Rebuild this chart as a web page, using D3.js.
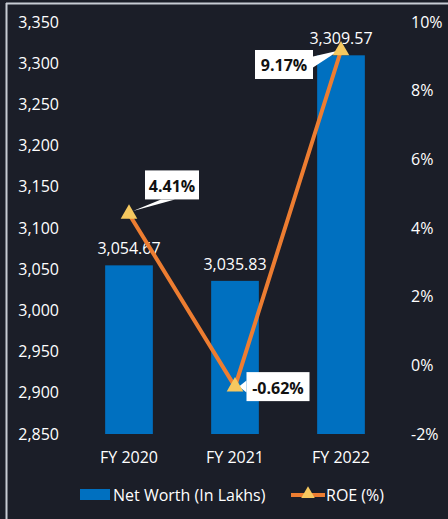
<!DOCTYPE html>
<html><head><meta charset="utf-8">
<script src="https://cdn.jsdelivr.net/npm/d3@7"></script>
<style>
html,body{margin:0;padding:0;background:#1b1e28;}
svg{display:block;}
text{font-family:"Open Sans","Noto Sans",sans-serif;}
</style></head>
<body>
<svg id="c" width="448" height="519"></svg>
<script>
const categories = ["FY 2020", "FY 2021", "FY 2022"];
const netWorth = [3054.67, 3035.83, 3309.57];
const roe = [4.41, -0.62, 9.17];
const leftTicks = [2850, 2900, 2950, 3000, 3050, 3100, 3150, 3200, 3250, 3300, 3350];
const rightTicks = [-2, 0, 2, 4, 6, 8, 10];
const seriesNames = ["Net Worth (In Lakhs)", "ROE (%)"];

const svg = d3.select("#c");
svg.append("rect").attr("width",448).attr("height",519).attr("fill","#1b1e28");
svg.append("line").attr("x1",6).attr("x2",448).attr("y1",3.5).attr("y2",3.5).attr("stroke","#c8ccd4").attr("stroke-width",2);
svg.append("line").attr("x1",6.5).attr("x2",6.5).attr("y1",3).attr("y2",519).attr("stroke","#c8ccd4").attr("stroke-width",2);

const x = d3.scaleBand().domain(categories).range([76, 394]).paddingInner(0.55).paddingOuter(0.275);
const yL = d3.scaleLinear().domain([2850, 3350]).range([434, 22]);
const yR = d3.scaleLinear().domain([-2, 10]).range([434, 22]);

const FS = 16;
const fmt = d3.format(",");
const axL = d3.axisLeft(yL).tickValues(leftTicks).tickFormat(d => fmt(d)).tickSize(0).tickPadding(0);
const gL = svg.append("g").attr("transform","translate(59,0)").call(axL);
gL.select(".domain").remove();
gL.selectAll("text").attr("fill","#ffffff").attr("font-size",FS).style("font-family","'Open Sans',sans-serif");

const axR = d3.axisRight(yR).tickValues(rightTicks).tickFormat(d => d + "%").tickSize(0).tickPadding(0);
const gR = svg.append("g").attr("transform","translate(411,0)").call(axR);
gR.select(".domain").remove();
gR.selectAll("text").attr("fill","#ffffff").attr("font-size",FS).style("font-family","'Open Sans',sans-serif");

const axB = d3.axisBottom(x).tickSize(0).tickPadding(0);
const gB = svg.append("g").attr("transform","translate(0,452)").call(axB);
gB.select(".domain").remove();
gB.selectAll("text").attr("fill","#ffffff").attr("font-size",FS).attr("dy","0.71em").style("font-family","'Open Sans',sans-serif");

svg.selectAll("rect.bar").data(netWorth).enter().append("rect")
  .attr("class","bar")
  .attr("x",(d,i)=>x(categories[i]))
  .attr("width",x.bandwidth())
  .attr("y",d=>yL(d))
  .attr("height",d=>yL(2850)-yL(d))
  .attr("fill","#0070c0");

svg.selectAll("text.bl").data(netWorth).enter().append("text")
  .attr("class","bl")
  .attr("x",(d,i)=>x(categories[i])+x.bandwidth()/2)
  .attr("y",d=>yL(d)-17)
  .attr("text-anchor","middle")
  .attr("dominant-baseline","central")
  .attr("fill","#ffffff").attr("font-size",FS)
  .text(d=>d3.format(",.2f")(d));

const pts = roe.map((d,i)=>[x(categories[i])+x.bandwidth()/2, yR(d)]);
svg.append("path").attr("d", d3.line()(pts)).attr("fill","none").attr("stroke","#ed7d31").attr("stroke-width",4).attr("stroke-linejoin","miter");

const callOff = [[43, -29], [43, 0], [-57, 14]];
const boxW = [54, 63, 58], boxH = 29;
roe.forEach((d,i)=>{
  const [px,py] = pts[i];
  const cx = px + callOff[i][0], cy = py + callOff[i][1];
  const w = boxW[i];
  const bx = cx - w/2, by = cy - boxH/2;
  const g = svg.append("g");
  let wedge;
  if (i === 0) wedge = [[px+4,py-3],[bx+16,by+boxH],[bx+30,by+boxH]];
  else if (i === 1) wedge = [[px+4,py],[bx,cy-6],[bx,cy+6]];
  else wedge = [[px-2,py],[bx+w,cy-8],[bx+w,cy+3]];
  g.append("polygon").attr("points", wedge.map(p=>p.join(",")).join(" ")).attr("fill","#ffffff");
  g.append("rect").attr("x",bx).attr("y",by).attr("width",w).attr("height",boxH).attr("fill","#ffffff");
  g.append("text").attr("x",cx).attr("y",cy+1).attr("text-anchor","middle").attr("dominant-baseline","central")
   .attr("font-size",16).attr("font-weight","bold").attr("fill","#111111").text(d.toFixed(2)+"%");
});

svg.selectAll("path.mk").data(pts).enter().append("path")
  .attr("class","mk")
  .attr("transform",d=>`translate(${d[0]},${d[1]})`)
  .attr("d", d3.symbol().type(d3.symbolTriangle).size(120))
  .attr("fill","#f6c85f");

const lg = svg.append("g");
lg.append("rect").attr("x",80).attr("y",489).attr("width",30).attr("height",11).attr("fill","#0070c0");
lg.append("text").attr("x",113).attr("y",495).attr("dominant-baseline","central").attr("fill","#fff").attr("font-size",FS).text(seriesNames[0]);
lg.append("line").attr("x1",291).attr("x2",325).attr("y1",495).attr("y2",495).attr("stroke","#ed7d31").attr("stroke-width",4);
lg.append("path").attr("transform","translate(308,494)").attr("d", d3.symbol().type(d3.symbolTriangle).size(80)).attr("fill","#f6c85f");
lg.append("text").attr("x",326).attr("y",495).attr("dominant-baseline","central").attr("fill","#fff").attr("font-size",FS).text(seriesNames[1]);
</script>
</body></html>
